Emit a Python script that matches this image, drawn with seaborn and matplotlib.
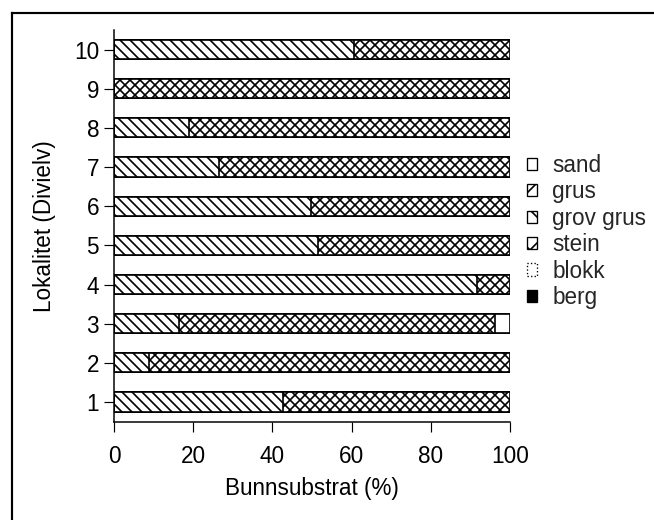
import matplotlib
matplotlib.use("Agg")
import matplotlib.pyplot as plt
from matplotlib.patches import Patch
from matplotlib.lines import Line2D
import seaborn as sns
import numpy as np
import pandas as pd

# ---- data ----
lokalitet = [1, 2, 3, 4, 5, 6, 7, 8, 9, 10]
substrates = ["sand", "grus", "grov grus", "stein", "blokk", "berg"]
sand      = [0, 0, 0, 0, 0, 0, 0, 0, 0, 0]
grus      = [0, 0, 0, 0, 0, 0, 0, 0, 0, 0]
grov_grus = [42.8, 8.8, 16.4, 91.7, 51.4, 49.7, 26.6, 19.0, 0, 60.7]
stein     = [57.2, 91.2, 79.8, 8.3, 48.6, 50.3, 73.4, 81.0, 100, 39.3]
blokk     = [0, 0, 3.8, 0, 0, 0, 0, 0, 0, 0]
berg      = [0, 0, 0, 0, 0, 0, 0, 0, 0, 0]
x_ticks = [0, 20, 40, 60, 80, 100]
x_label = "Bunnsubstrat (%)"
y_label = "Lokalitet (Divielv)"

# ---- styles ----
hatches = {"sand": "", "grus": "////", "grov grus": "\\\\\\\\", "stein": "xxxx",
           "blokk": "", "berg": ""}
legend_hatches = {"sand": "", "grus": "//", "grov grus": "\\\\", "stein": "xx",
                  "blokk": "", "berg": ""}
faces = {"sand": "white", "grus": "white", "grov grus": "white", "stein": "white",
         "blokk": "white", "berg": "black"}

sns.set_style("ticks")
plt.rcParams["font.family"] = ["Liberation Sans", "DejaVu Sans"]
plt.rcParams["hatch.linewidth"] = 1.0
plt.rcParams["hatch.color"] = "black"

DPI = 120
fig = plt.figure(figsize=(654 / DPI, 520 / DPI), dpi=DPI)
ax = fig.add_axes([114 / 654, 1 - 422 / 520, 396 / 654, 392 / 520])

df = pd.DataFrame({"lokalitet": lokalitet, "sand": sand, "grus": grus,
                   "grov grus": grov_grus, "stein": stein, "blokk": blokk,
                   "berg": berg})
cum = df[substrates].cumsum(axis=1)

# draw cumulative layers from outermost to innermost
for name in reversed(substrates):
    n0 = len(ax.patches)
    sns.barplot(x=cum[name], y=df["lokalitet"], orient="h", native_scale=True,
                width=0.49, color=faces[name], saturation=1, edgecolor="black",
                linewidth=1.0, errorbar=None, ax=ax)
    for p in ax.patches[n0:]:
        p.set_hatch(hatches[name])
        p.set_facecolor(faces[name])

ax.set_xlim(0, 100)
ax.set_ylim(0.49, 10.5)
ax.set_xticks(x_ticks)
ax.set_yticks(lokalitet)
ax.set_yticklabels([str(v) for v in lokalitet])
sns.despine(ax=ax)
for s in ("left", "bottom"):
    ax.spines[s].set_linewidth(0.9)
    ax.spines[s].set_color("black")
ax.tick_params(axis="both", labelsize=13.5, length=6, width=0.7, color="black",
               labelcolor="black")
ax.tick_params(axis="y", pad=3)
ax.tick_params(axis="x", pad=8)
ax.set_xlabel(x_label, fontsize=13.5, color="black")
ax.set_ylabel(y_label, fontsize=13.5, color="black")
ax.xaxis.set_label_coords(0.5, -0.14)
ax.yaxis.set_label_coords(-0.147, 0.5)
ax.grid(False)

handles = []
for name in substrates:
    handles.append(Patch(facecolor=faces[name], edgecolor="black",
                         hatch=legend_hatches[name], linewidth=0.8,
                         linestyle=":" if name == "blokk" else "-"))
leg = fig.legend(handles, substrates, loc="upper left",
                 bbox_to_anchor=(527 / 654, 1 - 154 / 520),
                 bbox_transform=fig.transFigure, frameon=False, fontsize=13.5,
                 handlelength=0.45, handleheight=0.45, handletextpad=0.67,
                 labelspacing=0.15, borderpad=0, borderaxespad=0)

# outer frame around the figure (only left and top edges visible)
fx = 11.5 / 654
fy = 1 - 13 / 520
fig.add_artist(Line2D([fx, fx], [0, fy], transform=fig.transFigure,
                      color="black", linewidth=1.3, solid_capstyle="projecting"))
fig.add_artist(Line2D([fx, 1], [fy, fy], transform=fig.transFigure,
                      color="black", linewidth=1.3, solid_capstyle="projecting"))

fig.savefig("out.png", dpi=DPI)
